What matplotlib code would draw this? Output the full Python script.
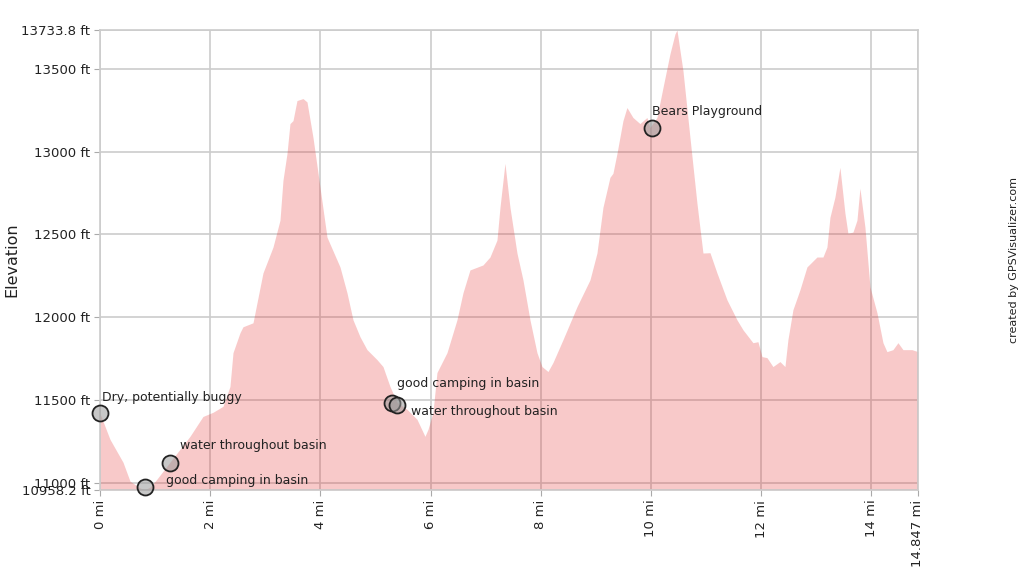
import matplotlib
matplotlib.use("Agg")
import matplotlib.pyplot as plt

# Profile data (distance in miles, elevation in feet)
dist_mi = [0.000, 0.181, 0.417, 0.544, 0.726, 0.817, 0.907, 1.034, 1.270, 1.452,
           1.633, 1.869, 2.051, 2.232, 2.359, 2.414, 2.541, 2.595, 2.777, 2.849,
           2.958, 3.140, 3.267, 3.321, 3.394, 3.448, 3.503, 3.575, 3.684, 3.757,
           3.866, 3.993, 4.120, 4.356, 4.483, 4.592, 4.719, 4.846, 5.027, 5.136,
           5.263, 5.390, 5.572, 5.753, 5.898, 5.953, 6.044, 6.116, 6.298, 6.479,
           6.588, 6.715, 6.951, 7.078, 7.205, 7.260, 7.350, 7.441, 7.568, 7.677,
           7.804, 7.931, 8.022, 8.131, 8.221, 8.403, 8.657, 8.893, 9.020, 9.129,
           9.256, 9.310, 9.383, 9.492, 9.564, 9.673, 9.800, 9.927, 9.982, 10.109,
           10.218, 10.345, 10.436, 10.472, 10.581, 10.708, 10.835, 10.944, 11.071, 11.198,
           11.379, 11.561, 11.670, 11.851, 11.942, 12.015, 12.105, 12.214, 12.341, 12.432,
           12.486, 12.577, 12.704, 12.831, 13.013, 13.122, 13.194, 13.249, 13.339, 13.430,
           13.521, 13.575, 13.666, 13.739, 13.793, 13.884, 13.975, 14.102, 14.211, 14.283,
           14.392, 14.483, 14.574, 14.737, 14.847]
elev_ft = [11420, 11264, 11126, 11012, 10970, 10960, 10975, 11024, 11126, 11204,
           11282, 11402, 11427, 11463, 11583, 11787, 11907, 11943, 11967, 12087,
           12268, 12424, 12586, 12827, 12989, 13169, 13187, 13308, 13320, 13300,
           13085, 12785, 12484, 12304, 12148, 11985, 11883, 11805, 11745, 11703,
           11583, 11487, 11445, 11385, 11282, 11324, 11427, 11667, 11787, 11985,
           12148, 12286, 12316, 12364, 12466, 12664, 12929, 12664, 12388, 12226,
           11985, 11787, 11703, 11673, 11727, 11865, 12064, 12226, 12388, 12664,
           12845, 12869, 12989, 13187, 13266, 13206, 13169, 13206, 13145, 13206,
           13386, 13590, 13710, 13733.8, 13488, 13085, 12688, 12388, 12390, 12268,
           12106, 11985, 11925, 11847, 11853, 11763, 11757, 11703, 11733, 11703,
           11865, 12046, 12166, 12304, 12364, 12364, 12424, 12604, 12725, 12905,
           12628, 12508, 12514, 12586, 12779, 12544, 12184, 12028, 11847, 11793,
           11805, 11847, 11805, 11805, 11793]

# Waypoints
wpt_names = ["Dry, potentially buggy", "good camping in basin", "water throughout basin",
             "good camping in basin", "water throughout basin", "Bears Playground"]
wpt_mi = [0.0, 0.82, 1.27, 5.30, 5.39, 10.02]
wpt_ft = [11420, 10975, 11120, 11485, 11472, 13140]

y_ticks = [10958.2, 11000, 11500, 12000, 12500, 13000, 13500, 13733.8]
y_labels = ["10958.2 ft", "11000 ft", "11500 ft", "12000 ft", "12500 ft",
            "13000 ft", "13500 ft", "13733.8 ft"]
x_ticks = [0, 2, 4, 6, 8, 10, 12, 14, 14.847]
x_labels = ["0 mi", "2 mi", "4 mi", "6 mi", "8 mi", "10 mi", "12 mi", "14 mi", "14.847 mi"]

fig = plt.figure(figsize=(10.24, 5.76), dpi=100)
ax = fig.add_axes([100/1024, 1 - 490/576, 818/1024, 460/576])

ax.set_xlim(0, 14.847)
ax.set_ylim(10958.2, 13733.8)

ax.set_axisbelow(True)
ax.grid(True, color="#cccccc", linewidth=1.2)
ax.fill_between(dist_mi, elev_ft, 10958.2, color="#e53030", alpha=0.26, linewidth=0, zorder=2)

ax.plot(wpt_mi, wpt_ft, 'o', markersize=11.5, markerfacecolor=(0.6, 0.6, 0.6, 0.55),
        markeredgecolor="#222222", markeredgewidth=1.3, zorder=4, clip_on=False)

# label offsets in pixels (dx, dy) and alignment
offsets = [(2, 16, 'left'), (21, 7, 'left'), (10, 18, 'left'),
           (5, 19, 'left'), (14, -7, 'left'), (0, 17, 'left')]
for name, x, y, (dx, dy, ha) in zip(wpt_names, wpt_mi, wpt_ft, offsets):
    ax.annotate(name, (x, y), xytext=(dx * 0.72, dy * 0.72), textcoords='offset points',
                fontsize=9, color="#222222", ha=ha, va='center', zorder=5)

ax.set_yticks(y_ticks)
ax.set_yticklabels(y_labels, fontsize=9.5, color="#222222")
ax.set_xticks(x_ticks)
ax.set_xticklabels(x_labels, fontsize=9.5, color="#222222", rotation=90)
ax.tick_params(axis='both', length=4, color="#aaaaaa", pad=3)

for s in ax.spines.values():
    s.set_color("#cccccc")
    s.set_linewidth(1.2)

fig.text(12/1024, 1 - 260/576, "Elevation", rotation=90, fontsize=11.5, va='center', ha='center',
         color="#222222")
fig.text(1014/1024, 1 - 260/576, "created by GPSVisualizer.com", rotation=90, fontsize=8,
         va='center', ha='center', color="#222222")

fig.savefig("out.png", dpi=100)
